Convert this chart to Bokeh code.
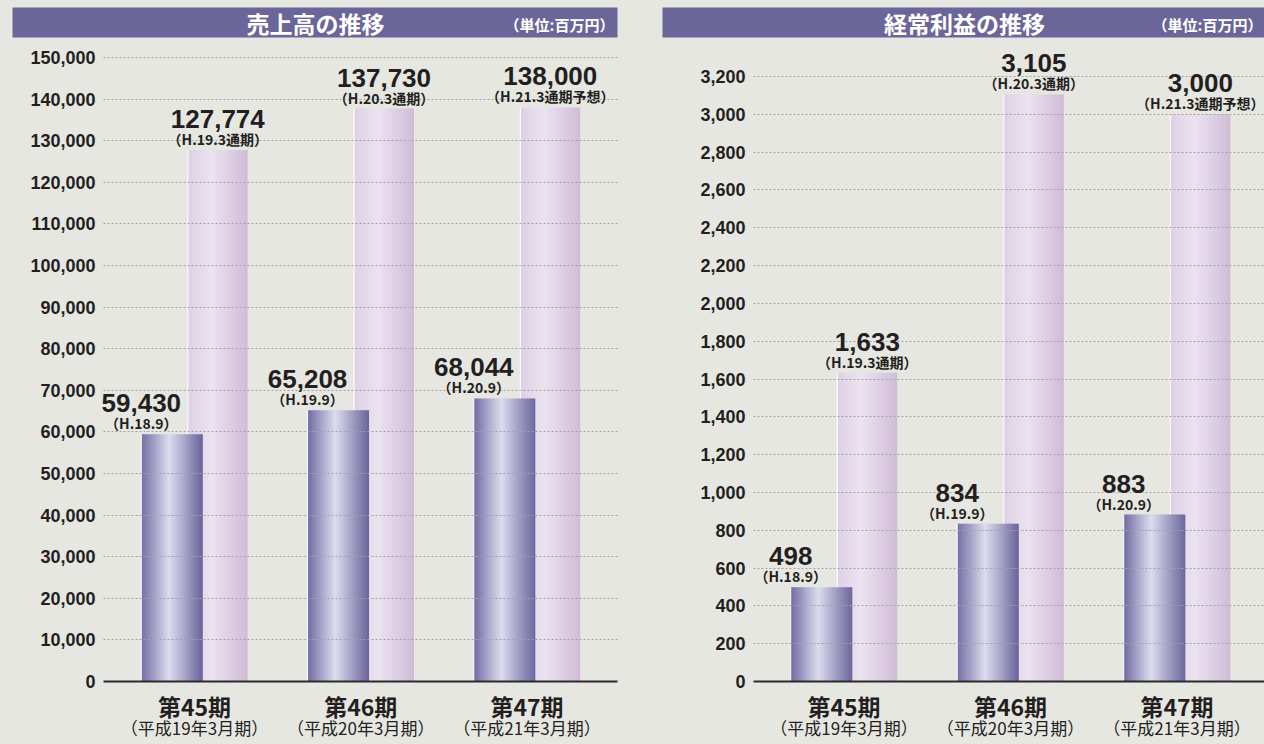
import numpy as np
from bokeh.plotting import figure
from bokeh.models import Range1d, FixedTicker, NumeralTickFormatter, LinearAxis
from bokeh.layouts import row, column
from bokeh.embed import file_html
from bokeh.resources import INLINE
from bokeh.core.properties import value

# ---------------- data ----------------
periods = ["第45期", "第46期", "第47期"]
period_notes = ["（平成19年3月期）", "（平成20年3月期）", "（平成21年3月期）"]

half_notes = ["（H.18.9）", "（H.19.9）", "（H.20.9）"]
full_notes = ["（H.19.3通期）", "（H.20.3通期）", "（H.21.3通期予想）"]

sales_half = [59430, 65208, 68044]
sales_full = [127774, 137730, 138000]

profit_half = [498, 834, 883]
profit_full = [1633, 3105, 3000]

sales_ticks = [0, 10000, 20000, 30000, 40000, 50000, 60000, 70000, 80000,
               90000, 100000, 110000, 120000, 130000, 140000, 150000]
profit_ticks = [0, 200, 400, 600, 800, 1000, 1200, 1400, 1600, 1800, 2000,
                2200, 2400, 2600, 2800, 3000, 3200]

titles = ["売上高の推移", "経常利益の推移"]
unit_text = "（単位:百万円）"

# ---------------- styles ----------------
BG = "#e7e7e2"
BAR_TITLE = "#6b6699"
INK = "#231f20"
NUM_FONT = value("Liberation Sans")
JP_FONT = value("Noto Sans CJK JP")

DARK_STOPS = [(0.0, "#716ba3"), (0.45, "#dcdcef"), (1.0, "#69639a")]
LIGHT_STOPS = [(0.0, "#ddd0e4"), (0.4, "#ebe3f0"), (1.0, "#d0bbd7")]
DARK_SPAN = (-0.32, 0.05)
LIGHT_SPAN = (-0.04, 0.32)


def hex2rgb(h):
    h = h.lstrip("#")
    return [int(h[i:i + 2], 16) for i in (0, 2, 4)]


def grad_colors(stops, n):
    out = []
    for i in range(n):
        t = (i + 0.5) / n
        for (t0, c0), (t1, c1) in zip(stops[:-1], stops[1:]):
            if t0 <= t <= t1:
                f = (t - t0) / (t1 - t0)
                a, b = hex2rgb(c0), hex2rgb(c1)
                rgb = [round(a[k] + (b[k] - a[k]) * f) for k in range(3)]
                out.append("#%02x%02x%02x" % tuple(rgb))
                break
    return out


def draw_bars(p, vals, span, stops, n=30):
    lo, hi = span
    cols = grad_colors(stops, n)
    L, R, T, C = [], [], [], []
    for x, v in enumerate(vals):
        for i in range(n):
            L.append(x + lo + (hi - lo) * i / n)
            R.append(x + lo + (hi - lo) * (i + 1) / n + (0.003 if i < n - 1 else 0))
            T.append(v)
            C.append(cols[i])
    p.quad(left=L, right=R, bottom=0, top=T, fill_color=C, line_color=None)
    p.segment(x0=[x + lo for x in range(len(vals))], y0=[0] * len(vals),
              x1=[x + lo for x in range(len(vals))], y1=vals,
              line_color="white", line_width=1)


# ---------- title strip (one figure across the whole width) ----------
W, H = 1264, 744
TH = 40
t = figure(width=W, height=TH, x_range=Range1d(0, W), y_range=Range1d(0, TH),
           x_axis_type=None, y_axis_type=None, toolbar_location=None,
           output_backend="svg", min_border=0)
t.background_fill_color = BG
t.border_fill_color = BG
t.outline_line_color = None
t.grid.visible = False
t.quad(left=[12, 662], right=[617, 1264], bottom=[3, 3], top=[33, 33],
       fill_color=BAR_TITLE, line_color=None)
t.text(x=[315, 964], y=[18, 18], text=titles, text_font=JP_FONT, text_font_style="bold",
       text_font_size="23px", text_color="white", text_align="center",
       text_baseline="middle")
t.text(x=[614, 1262], y=[16, 16], text=[unit_text, unit_text], text_font=JP_FONT,
       text_font_style="bold", text_font_size="15px", text_color="white",
       text_align="right", text_baseline="middle")


def chart_fig(width, border_left, border_right, xr, ytop, ticks, half, full):
    p = figure(width=width, height=H - TH, x_range=Range1d(*xr), y_range=Range1d(0, ytop),
               toolbar_location=None, output_backend="svg",
               min_border_left=border_left, min_border_right=border_right,
               min_border_top=5, min_border_bottom=63)
    p.background_fill_color = BG
    p.border_fill_color = BG
    p.outline_line_color = None

    # y axis
    p.yaxis.ticker = FixedTicker(ticks=ticks)
    p.yaxis.formatter = NumeralTickFormatter(format="0,0")
    p.yaxis.axis_line_color = None
    p.yaxis.major_tick_line_color = None
    p.yaxis.minor_tick_line_color = None
    p.yaxis.major_tick_out = 0
    p.yaxis.major_label_standoff = 8
    p.yaxis.major_label_text_font = "Liberation Sans"
    p.yaxis.major_label_text_font_style = "bold"
    p.yaxis.major_label_text_font_size = "18px"
    p.yaxis.major_label_text_color = INK

    # grid
    p.xgrid.visible = False
    p.ygrid.ticker = FixedTicker(ticks=ticks[1:])
    p.ygrid.grid_line_color = "#a2a2a2"
    p.ygrid.grid_line_dash = "2 2"
    p.ygrid.grid_line_width = 1
    p.ygrid.level = "guide"

    # x axis (period names)
    cat_ticks = [0, 1, 2]
    p.xaxis.ticker = FixedTicker(ticks=cat_ticks)
    p.xaxis.major_label_overrides = {i: s for i, s in zip(cat_ticks, periods)}
    p.xaxis.axis_line_color = "#2a2a2a"
    p.xaxis.axis_line_width = 2
    p.xaxis.major_tick_line_color = None
    p.xaxis.minor_tick_line_color = None
    p.xaxis.major_tick_out = 0
    p.xaxis.major_label_standoff = 7
    p.xaxis.major_label_text_font = "Noto Sans CJK JP"
    p.xaxis.major_label_text_font_style = "bold"
    p.xaxis.major_label_text_font_size = "23px"
    p.xaxis.major_label_text_color = INK

    ax2 = LinearAxis(ticker=FixedTicker(ticks=cat_ticks),
                     major_label_overrides={i: s for i, s in zip(cat_ticks, period_notes)})
    ax2.axis_line_color = None
    ax2.major_tick_line_color = None
    ax2.minor_tick_line_color = None
    ax2.major_tick_out = 0
    ax2.major_tick_in = 0
    ax2.major_label_standoff = -11
    ax2.major_label_text_font = "Noto Sans CJK JP"
    ax2.major_label_text_font_size = "17px"
    ax2.major_label_text_color = INK
    p.add_layout(ax2, "below")

    # bars
    draw_bars(p, full, LIGHT_SPAN, LIGHT_STOPS)
    draw_bars(p, half, DARK_SPAN, DARK_STOPS)

    # labels
    xs_half = [i + DARK_SPAN[0] for i in range(3)]
    xs_full = [i + (LIGHT_SPAN[0] + LIGHT_SPAN[1]) / 2 for i in range(3)]
    for xs, vals, notes in ((xs_half, half, half_notes), (xs_full, full, full_notes)):
        p.text(x=xs, y=vals, text=["{:,}".format(v) for v in vals], text_font=NUM_FONT,
               text_font_style="bold", text_font_size="26px", text_color=INK,
               text_align="center", text_baseline="middle", y_offset=-31,
               level="annotation")
        p.text(x=xs, y=vals, text=notes, text_font=JP_FONT, text_font_style="bold",
               text_font_size="14px", text_color=INK, text_align="center",
               text_baseline="middle", y_offset=-11, level="annotation")
    return p


# left chart: x 0..640, frame 103..617 ; right chart: x 640..1264, frame 753..1264
cl = chart_fig(640, 103, 23, (-0.5474, 2.5444), 152885, sales_ticks, sales_half, sales_full)
cr = chart_fig(624, 113, 0, (-0.5435, 2.5255), 3364, profit_ticks, profit_half, profit_full)

charts = row(cl, cr, styles={"background-color": BG})
layout = column(t, charts, styles={"background-color": BG})

open("out.html", "w").write(file_html(layout, INLINE))
